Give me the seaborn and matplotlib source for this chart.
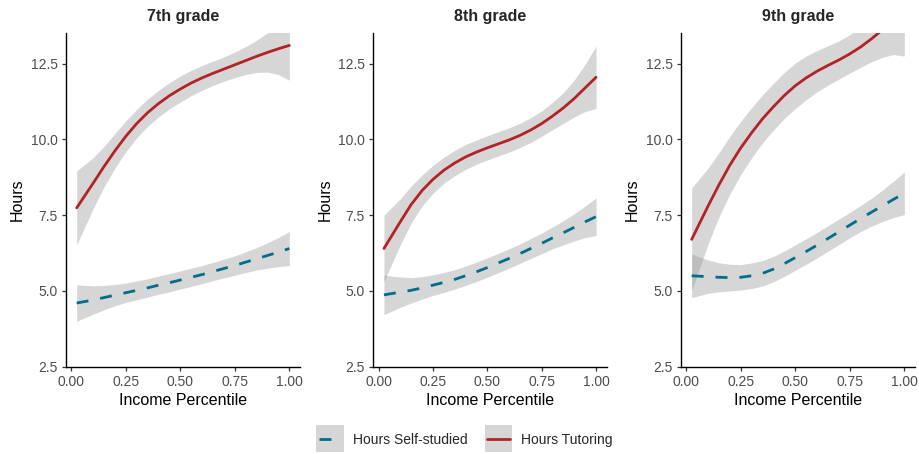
import numpy as np
import pandas as pd
import matplotlib
matplotlib.use("Agg")
import matplotlib.pyplot as plt
from matplotlib.patches import Rectangle
from matplotlib.lines import Line2D
import seaborn as sns

# ---------------- data ----------------
grades = ["7th grade", "8th grade", "9th grade"]
series = ["Hours Self-studied", "Hours Tutoring"]

income = [0.025, 0.10, 0.15, 0.20, 0.25, 0.30, 0.35, 0.40, 0.45, 0.50,
          0.55, 0.60, 0.65, 0.70, 0.75, 0.80, 0.85, 0.90, 0.95, 1.00]

# 7th grade
g7_tutor = [7.74, 8.55, 9.10, 9.62, 10.10, 10.52, 10.88, 11.18, 11.44, 11.66,
            11.86, 12.03, 12.18, 12.32, 12.46, 12.60, 12.74, 12.87, 12.99, 13.10]
g7_tutor_ci = [1.22, 0.84, 0.67, 0.57, 0.51, 0.47, 0.45, 0.44, 0.43, 0.43,
               0.42, 0.41, 0.40, 0.40, 0.42, 0.46, 0.53, 0.65, 0.85, 1.15]
g7_self = [4.60, 4.70, 4.78, 4.86, 4.94, 5.02, 5.10, 5.19, 5.27, 5.36,
           5.45, 5.54, 5.64, 5.74, 5.84, 5.95, 6.06, 6.17, 6.28, 6.40]
g7_self_ci = [0.60, 0.47, 0.40, 0.35, 0.32, 0.31, 0.30, 0.30, 0.30, 0.30,
              0.30, 0.30, 0.30, 0.31, 0.32, 0.34, 0.37, 0.42, 0.48, 0.56]

# 8th grade
g8_tutor = [6.40, 7.28, 7.85, 8.31, 8.68, 8.98, 9.22, 9.42, 9.58, 9.72,
            9.85, 9.98, 10.13, 10.31, 10.52, 10.77, 11.04, 11.35, 11.70, 12.05]
g8_tutor_ci = [1.10, 0.76, 0.61, 0.51, 0.46, 0.43, 0.42, 0.41, 0.40, 0.40,
               0.40, 0.40, 0.40, 0.41, 0.42, 0.45, 0.51, 0.61, 0.78, 1.03]
g8_self = [4.87, 4.96, 5.02, 5.10, 5.19, 5.28, 5.38, 5.50, 5.63, 5.77,
           5.92, 6.07, 6.23, 6.40, 6.57, 6.75, 6.92, 7.10, 7.28, 7.45]
g8_self_ci = [0.65, 0.50, 0.42, 0.37, 0.34, 0.33, 0.32, 0.32, 0.32, 0.32,
              0.32, 0.32, 0.32, 0.33, 0.34, 0.36, 0.40, 0.45, 0.52, 0.62]

# 9th grade
g9_tutor = [6.70, 7.80, 8.50, 9.15, 9.72, 10.22, 10.68, 11.08, 11.45, 11.77,
            12.03, 12.25, 12.44, 12.62, 12.82, 13.05, 13.32, 13.62, 13.95, 14.30]
g9_tutor_ci = [1.70, 1.25, 1.06, 0.95, 0.88, 0.83, 0.79, 0.77, 0.76, 0.75,
               0.72, 0.68, 0.65, 0.63, 0.63, 0.67, 0.76, 0.91, 1.15, 1.55]
g9_self = [5.50, 5.47, 5.45, 5.44, 5.45, 5.50, 5.58, 5.72, 5.90, 6.10,
           6.30, 6.51, 6.73, 6.95, 7.17, 7.39, 7.60, 7.81, 8.02, 8.22]
g9_self_ci = [0.72, 0.55, 0.48, 0.44, 0.42, 0.42, 0.42, 0.42, 0.42, 0.42,
              0.42, 0.42, 0.42, 0.42, 0.42, 0.43, 0.46, 0.52, 0.60, 0.70]

x_ticks = [0.00, 0.25, 0.50, 0.75, 1.00]
y_ticks = [2.5, 5.0, 7.5, 10.0, 12.5]

# ---------------- build long table ----------------
values = {
    "7th grade": {"Hours Self-studied": (g7_self, g7_self_ci), "Hours Tutoring": (g7_tutor, g7_tutor_ci)},
    "8th grade": {"Hours Self-studied": (g8_self, g8_self_ci), "Hours Tutoring": (g8_tutor, g8_tutor_ci)},
    "9th grade": {"Hours Self-studied": (g9_self, g9_self_ci), "Hours Tutoring": (g9_tutor, g9_tutor_ci)},
}
rows = []
for g in grades:
    for s in series:
        ys, ci = values[g][s]
        for xv, yv, cv in zip(income, ys, ci):
            rows.append({"grade": g, "series": s, "income": xv, "hours": yv,
                         "lo": yv - cv, "hi": yv + cv})
df = pd.DataFrame(rows)

# ---------------- style ----------------
sns.set_style("ticks")
plt.rcParams["font.family"] = ["Liberation Sans", "DejaVu Sans"]

palette = {"Hours Self-studied": "#006D8C", "Hours Tutoring": "#B22226"}
dash_map = {"Hours Self-studied": (4.3, 4.3), "Hours Tutoring": ""}
band_color = "#999999"
band_alpha = 0.4
lw = 2.0

W, H = 919, 454
fig = plt.figure(figsize=(W / 100, H / 100), dpi=100)
lefts = [66, 373.3, 681]
widths = [234, 233.4, 234]
bottom_px, top_px = 366.7, 33.3

for i, g in enumerate(grades):
    ax = fig.add_axes([lefts[i] / W, (H - bottom_px) / H, widths[i] / W, (bottom_px - top_px) / H])
    sub = df[df["grade"] == g]
    for s in series:
        d = sub[sub["series"] == s]
        ax.fill_between(d["income"], d["lo"], d["hi"], color=band_color,
                        alpha=band_alpha, lw=0, zorder=1)
    sns.lineplot(data=sub, x="income", y="hours", hue="series", style="series",
                 palette=palette, dashes=dash_map, hue_order=series, style_order=series,
                 linewidth=lw, legend=False, ax=ax, zorder=3, estimator=None)
    ax.set_xlim(-0.024, 1.049)
    ax.set_ylim(2.5, 13.5)
    ax.set_xticks(x_ticks)
    ax.set_xticklabels([f"{t:.2f}" for t in x_ticks])
    ax.set_yticks(y_ticks)
    ax.set_yticklabels([f"{t:.1f}" for t in y_ticks])
    ax.tick_params(axis="both", labelsize=10, labelcolor="#4D4D4D", color="#333333",
                   length=3, width=0.9, pad=3)
    for sp in ["top", "right"]:
        ax.spines[sp].set_visible(False)
    for sp in ["left", "bottom"]:
        ax.spines[sp].set_color("black")
        ax.spines[sp].set_linewidth(1.0)
    ax.set_xlabel("Income Percentile", fontsize=11.5, color="black", labelpad=3)
    ax.set_ylabel("Hours", fontsize=11.5, color="black", labelpad=4)
    ax.set_title(g, fontsize=11.5, fontweight="bold", pad=9)

LEG_FS = 10
KEY_H = 1.96  # key box height in font-size units


class KeyHandler:
    def __init__(self, color, dashes):
        self.color = color
        self.dashes = dashes

    def legend_artist(self, legend, orig_handle, fontsize, handlebox):
        x0, y0 = handlebox.xdescent, handlebox.ydescent
        w, h = handlebox.width, handlebox.height
        kh = KEY_H * fontsize
        yc = y0 + h / 2
        rect = Rectangle((x0, yc - kh / 2), w, kh, facecolor=band_color, alpha=band_alpha,
                         edgecolor="none", transform=handlebox.get_transform())
        ln = Line2D([x0 + 0.085 * w, x0 + 0.915 * w], [yc, yc],
                    color=self.color, lw=lw, transform=handlebox.get_transform())
        if self.dashes:
            ln.set_dashes(self.dashes)
        handlebox.add_artist(rect)
        handlebox.add_artist(ln)
        return rect


handles = [Rectangle((0, 0), 1, 1) for _ in series]
hmap = {h: KeyHandler(palette[s], dash_map[s]) for h, s in zip(handles, series)}
fig.legend(handles, series, handler_map=hmap, loc="center", ncol=2,
           bbox_to_anchor=(0.5054, 0.0315), frameon=False, fontsize=LEG_FS,
           handlelength=1.97, handleheight=0.7, handletextpad=0.65,
           columnspacing=1.27, borderpad=0.1)

fig.savefig("out.png", dpi=100)
